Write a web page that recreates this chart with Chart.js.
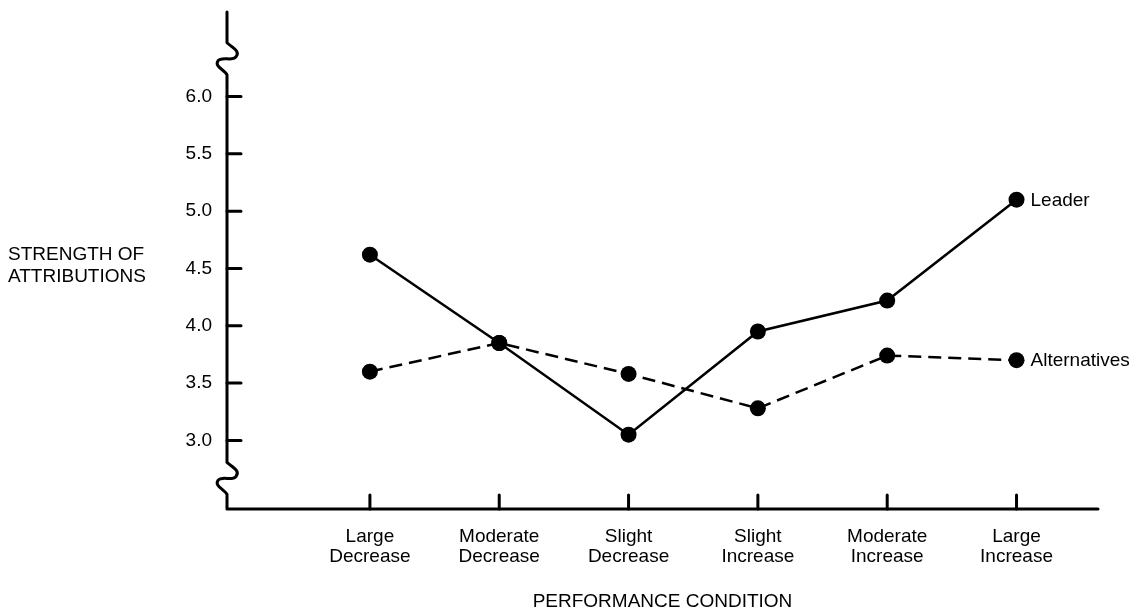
<!DOCTYPE html>
<html>
<head>
<meta charset="utf-8">
<script src="https://cdn.jsdelivr.net/npm/chart.js@4.4.0/dist/chart.umd.min.js"></script>
<style>
  html, body { margin: 0; padding: 0; background: #fff; }
  #wrap { width: 1147px; height: 611px; }
</style>
</head>
<body>
<div id="wrap"><canvas id="chart" width="1147" height="611"></canvas></div>
<script>
// data
var categories = [
  ["Large", "Decrease"], ["Moderate", "Decrease"], ["Slight", "Decrease"],
  ["Slight", "Increase"], ["Moderate", "Increase"], ["Large", "Increase"]
];
var leaderValues = [4.62, 3.85, 3.05, 3.95, 4.22, 5.10];
var alternativesValues = [3.60, 3.85, 3.58, 3.28, 3.74, 3.70];
var seriesNames = ["Leader", "Alternatives"];
var yTickValues = [3.0, 3.5, 4.0, 4.5, 5.0, 5.5, 6.0];
var yTickLabels = ["3.0", "3.5", "4.0", "4.5", "5.0", "5.5", "6.0"];
var yAxisTitle = ["STRENGTH OF", "ATTRIBUTIONS"];
var xAxisTitle = "PERFORMANCE CONDITION";

var FONT = "'Liberation Sans', Arial, Helvetica, sans-serif";
var INK = "#000";

function toPoints(values) {
  return values.map(function(v, i) { return { x: i, y: v }; });
}

// axis line with the two break marks, plus inward ticks
var brokenAxes = {
  id: "brokenAxes",
  beforeDatasetsDraw: function(chart) {
    var ctx = chart.ctx, area = chart.chartArea;
    var xs = chart.scales.x, ys = chart.scales.y;
    var x0 = area.left, yb = area.bottom;
    var topBreak = ys.getPixelForValue(6.32);
    var lowBreak = ys.getPixelForValue(2.66);

    function wiggle(c) {
      ctx.lineTo(x0, c - 17);
      ctx.bezierCurveTo(x0 + 4, c - 13, x0 + 14, c - 9, x0 + 9, c - 3);
      ctx.bezierCurveTo(x0 + 5, c + 2, x0 - 5, c - 4, x0 - 9, c + 1);
      ctx.bezierCurveTo(x0 - 13, c + 7, x0 - 2, c + 10, x0, c + 15);
    }

    ctx.save();
    ctx.strokeStyle = INK;
    ctx.lineWidth = 3;
    ctx.lineJoin = "round";
    ctx.lineCap = "round";
    ctx.beginPath();
    ctx.moveTo(x0, area.top);
    wiggle(topBreak);
    wiggle(lowBreak);
    ctx.lineTo(x0, yb);
    ctx.lineTo(area.right, yb);
    ctx.stroke();

    ctx.beginPath();
    ys.ticks.forEach(function(t) {
      var py = ys.getPixelForValue(t.value);
      ctx.moveTo(x0, py);
      ctx.lineTo(x0 + 14, py);
    });
    xs.ticks.forEach(function(t) {
      var px = xs.getPixelForValue(t.value);
      ctx.moveTo(px, yb);
      ctx.lineTo(px, yb - 14);
    });
    ctx.stroke();

    // horizontal y axis title on the left
    ctx.fillStyle = INK;
    ctx.font = "19px " + FONT;
    ctx.textAlign = "left";
    ctx.textBaseline = "middle";
    var mid = ys.getPixelForValue(4.5) - 3;
    ctx.fillText(yAxisTitle[0], 8, mid - 11);
    ctx.fillText(yAxisTitle[1], 8, mid + 11);
    ctx.restore();
  },
  afterDatasetsDraw: function(chart) {
    var ctx = chart.ctx;
    ctx.save();
    ctx.fillStyle = INK;
    ctx.font = "19px " + FONT;
    ctx.textAlign = "left";
    ctx.textBaseline = "middle";
    chart.data.datasets.forEach(function(ds, i) {
      var pts = chart.getDatasetMeta(i).data;
      var last = pts[pts.length - 1];
      ctx.fillText(ds.label, last.x + 14, last.y + 1);
    });
    ctx.restore();
  }
};

new Chart(document.getElementById("chart"), {
  type: "line",
  data: {
    datasets: [{
      label: seriesNames[0],
      data: toPoints(leaderValues),
      borderColor: INK,
      backgroundColor: INK,
      borderWidth: 2.5,
      pointRadius: 8,
      pointBackgroundColor: INK,
      pointBorderWidth: 0,
      tension: 0
    }, {
      label: seriesNames[1],
      data: toPoints(alternativesValues),
      borderColor: INK,
      backgroundColor: INK,
      borderWidth: 2.5,
      borderDash: [13, 7],
      pointRadius: 8,
      pointBackgroundColor: INK,
      pointBorderWidth: 0,
      tension: 0
    }]
  },
  options: {
    responsive: false,
    animation: false,
    devicePixelRatio: 1,
    layout: { padding: { top: 12, right: 49, left: 0, bottom: 0 } },
    plugins: { legend: { display: false }, tooltip: { enabled: false } },
    scales: {
      x: {
        type: "linear",
        min: -1.105,
        max: 5.63,
        grid: { display: false, drawTicks: false },
        border: { display: false },
        afterBuildTicks: function(scale) {
          scale.ticks = categories.map(function(c, i) { return { value: i }; });
        },
        afterFit: function(scale) {
          scale.height = 102;
          scale.paddingLeft = 0;
          scale.paddingRight = 0;
        },
        ticks: {
          autoSkip: false,
          maxRotation: 0,
          padding: 18,
          color: INK,
          font: { size: 19, family: FONT, lineHeight: "20px" },
          callback: function(value) { return categories[value]; }
        },
        title: {
          display: true,
          text: xAxisTitle,
          color: INK,
          padding: { top: 0, bottom: 0 },
          font: { size: 19, family: FONT, lineHeight: "18px" }
        }
      },
      y: {
        type: "linear",
        min: 2.402,
        max: 6.737,
        grid: { display: false, drawTicks: false },
        border: { display: false },
        afterBuildTicks: function(scale) {
          scale.ticks = yTickValues.map(function(v) { return { value: v }; });
        },
        afterFit: function(scale) {
          scale.width = 227;
          scale.paddingTop = 0;
          scale.paddingBottom = 0;
        },
        ticks: {
          padding: 15,
          color: INK,
          font: { size: 19, family: FONT },
          callback: function(value) { return yTickLabels[yTickValues.indexOf(value)]; }
        }
      }
    }
  },
  plugins: [brokenAxes]
});
</script>
</body>
</html>
